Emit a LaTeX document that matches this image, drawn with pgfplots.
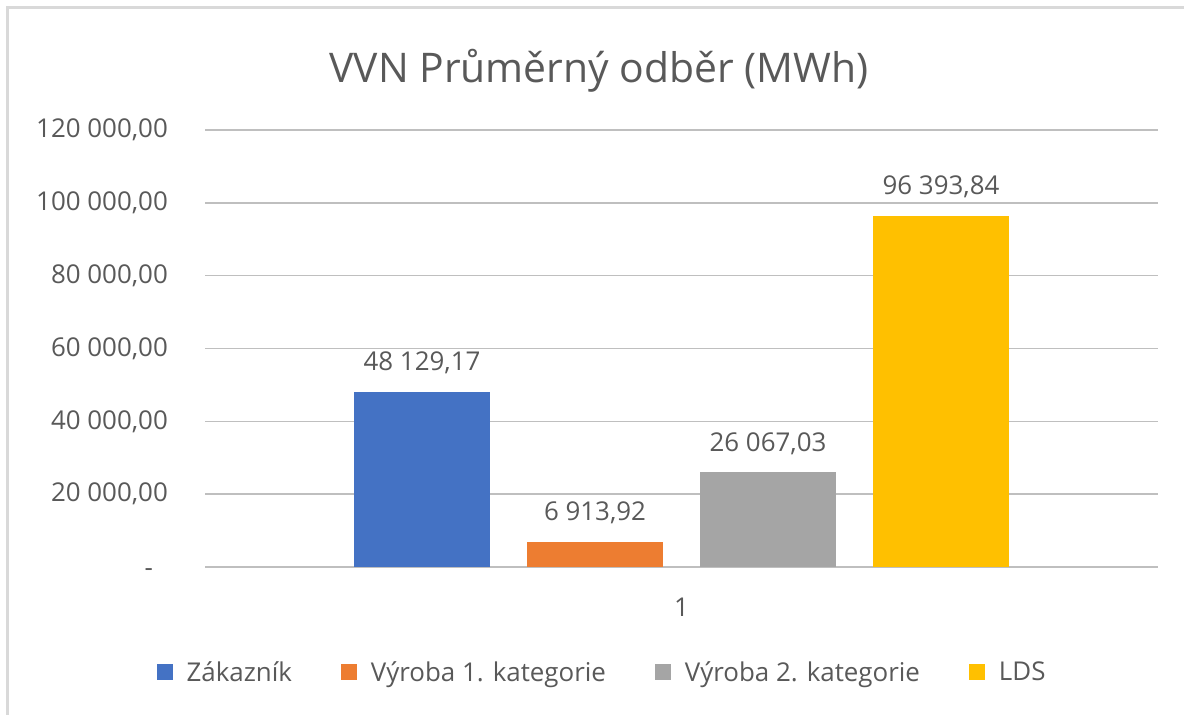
\documentclass[border=0pt]{standalone}
\usepackage{pgfplots}
\pgfplotsset{compat=1.18}
\usepackage{fontspec}
\setmainfont{Open Sans}
\definecolor{txt}{HTML}{595959}
\definecolor{grid}{HTML}{D9D9D9}
\definecolor{cA}{HTML}{4472C4}
\definecolor{cB}{HTML}{ED7D31}
\definecolor{cC}{HTML}{A5A5A5}
\definecolor{cD}{HTML}{FFC000}
\begin{document}
\begin{tikzpicture}[x=1bp,y=1bp]
\useasboundingbox (0,0) rectangle (1184,715);
\draw[grid, line width=3bp] (7.5,0) -- (7.5,707.5) -- (1184,707.5);
\node[txt, font=\fontsize{41}{48}\selectfont, anchor=base] at (599,632) {VVN Průměrný odběr (MWh)};
\begin{axis}[
  at={(205bp,148bp)}, anchor=origin,
  scale only axis, width=953bp, height=437bp,
  xmin=0.5, xmax=1.5, ymin=0, ymax=120000,
  ybar=37bp, bar width=136bp,
  scaled y ticks=false,
  xtick={1}, xticklabels={1},
  ytick={0,20000,40000,60000,80000,100000,120000},
  yticklabels={-\phantom{0}, 20 000{,}00, 40 000{,}00, 60 000{,}00, 80 000{,}00, 100 000{,}00, 120 000{,}00},
  axis line style={draw=none},
  major tick length=0pt, tick style={draw=none},
  xmajorgrids=false, ymajorgrids=true, grid style={grid, line width=1.5bp},
  tick label style={txt, font=\fontsize{26}{30}\selectfont},
  yticklabel style={anchor=east, inner sep=0pt, xshift=-37bp},
  xticklabel style={anchor=base, inner sep=0pt, yshift=-49.5bp},
  nodes near coords,
  point meta=explicit symbolic,
  every node near coord/.append style={txt, font=\fontsize{26}{30}\selectfont, anchor=base, inner sep=0pt, yshift=21bp},
  legend columns=4,
  legend style={at={(rel axis cs:0.4166,-0.240)}, anchor=center, draw=none, fill=none,
    font=\fontsize{26}{30}\selectfont, text=txt,
    /tikz/every even column/.append style={column sep=47bp}},
  legend image code/.code={\fill[#1] (0bp,-8bp) rectangle (16bp,8bp); \path (28bp,0bp);},
  legend cell align=left,
]
\addplot[fill=cA, draw=none] coordinates {(1,48129.17) [48 129,17]};
\addplot[fill=cB, draw=none] coordinates {(1,6913.92) [6 913,92]};
\addplot[fill=cC, draw=none] coordinates {(1,26067.03) [26 067,03]};
\addplot[fill=cD, draw=none] coordinates {(1,96393.84) [96 393,84]};
\legend{Zákazník, Výroba 1. kategorie, Výroba 2. kategorie, LDS}
\end{axis}
\end{tikzpicture}
\end{document}
